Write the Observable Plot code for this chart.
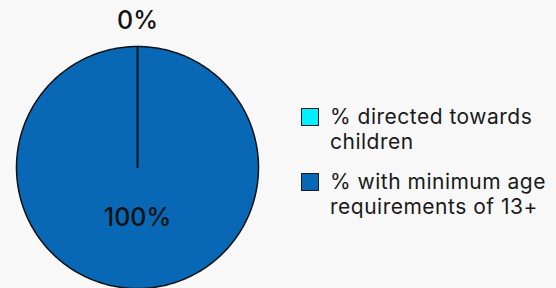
<!DOCTYPE html>
<html><head><meta charset="utf-8">
<script src="https://cdn.jsdelivr.net/npm/d3@7"></script>
<script src="https://cdn.jsdelivr.net/npm/@observablehq/plot@0.6"></script>
<style>
body{margin:0;background:#f8f8f8;font-family:Inter,sans-serif}
#wrap{position:relative;width:556px;height:288px;overflow:hidden}
.legend{position:absolute;left:301px;top:105px;color:#1a1a1a;font-size:21px;line-height:24.5px;letter-spacing:0.5px}
.item{display:flex;align-items:flex-start;margin-bottom:16px}
.sw{width:16px;height:16px;border:1.5px solid #1a1a1a;margin-top:3px;margin-right:11px;flex:none}
</style></head><body><div id="wrap"></div>
<script>
const categories = ["% directed towards children", "% with minimum age requirements of 13+"];
const values = [0, 100];
const labels = ["0%", "100%"];
const colors = ["#00f0ff", "#0868b5"];

const arcs = d3.pie().sort(null).value(d => d)(values);
const pts = [];
arcs.forEach((s, i) => {
  const span = s.endAngle - s.startAngle;
  const n = Math.max(2, Math.ceil(span / (2 * Math.PI) * 360));
  pts.push({k: i, x: 0, y: 0});
  for (let j = 0; j <= n; j++) {
    const a = s.startAngle + span * j / n;
    pts.push({k: i, x: Math.sin(a), y: Math.cos(a)});
  }
  pts.push({k: i, x: 0, y: 0});
});
const labelPts = arcs.map((s, i) => {
  const a = (s.startAngle + s.endAngle) / 2;
  const r = values[i] < 5 ? 1.21 : 0.42;
  return {x: Math.sin(a) * r, y: Math.cos(a) * r, t: labels[i]};
});

const chart = Plot.plot({
  width: 556, height: 288,
  marginTop: 0, marginBottom: 0, marginLeft: 0, marginRight: 0,
  style: {background: "#f8f8f8", fontFamily: "Inter, sans-serif"},
  x: {domain: [-1, 1], range: [16, 258], axis: null},
  y: {domain: [-1, 1], range: [288, 46], axis: null},
  color: {domain: categories, range: colors},
  marks: [
    Plot.line(pts.filter(d => d.k === 1), {x: "x", y: "y", z: "k", fill: d => categories[d.k], stroke: "#111", strokeWidth: 1.5, curve: "linear"}),
    Plot.line(pts.filter(d => d.k === 0), {x: "x", y: "y", z: "k", fill: d => categories[d.k], stroke: "#111", strokeWidth: 1.5, curve: "linear"}),
    Plot.text(labelPts, {x: "x", y: "y", text: "t", fontSize: 25, fontWeight: 500, fill: "#111"})
  ]
});
const wrap = document.getElementById("wrap");
wrap.appendChild(chart);
const lg = document.createElement("div");
lg.className = "legend";
categories.forEach((c, i) => {
  const it = document.createElement("div");
  it.className = "item";
  const sw = document.createElement("div");
  sw.className = "sw";
  sw.style.background = colors[i];
  const tx = document.createElement("div");
  tx.textContent = c;
  tx.style.width = "225px";
  it.appendChild(sw); it.appendChild(tx);
  lg.appendChild(it);
});
wrap.appendChild(lg);
</script></body></html>
